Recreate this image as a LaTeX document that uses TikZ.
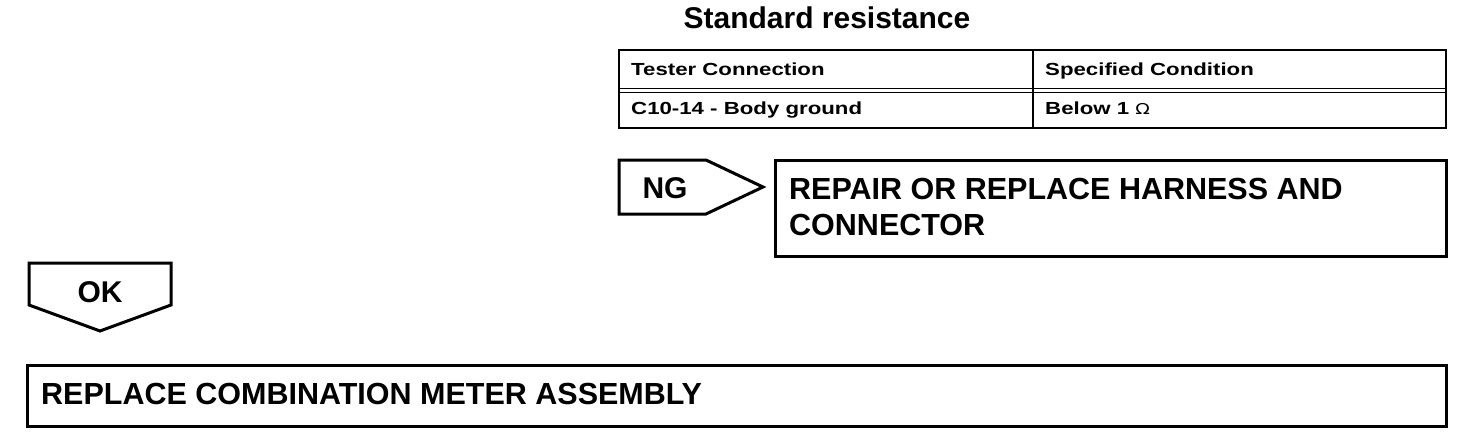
\documentclass[tikz,border=0pt]{standalone}
\usepackage{fontspec}
\setmainfont{Liberation Sans}
\newfontfamily\symfont{DejaVu Sans}
\begin{document}
\begin{tikzpicture}[x=1pt,y=-1pt,
  box/.style={draw,line width=3pt},
  thin/.style={draw,line width=2pt},
  big/.style={font=\fontsize{30.5}{36}\selectfont\bfseries,anchor=base west,inner sep=0},
  tab/.style={font=\fontsize{17.5}{20}\selectfont\bfseries,anchor=base west,inner sep=0},
  tag/.style={font=\fontsize{30}{34}\selectfont\bfseries,anchor=base,inner sep=0}]
\useasboundingbox (0,0) rectangle (1472,442);
\node[font=\fontsize{30}{34}\selectfont\bfseries,inner sep=0,anchor=base] (title) at (827,28) {Standard resistance};
% table
\draw[thin] (619,50) rectangle (1446,128);
\draw[thin] (1033,50) -- (1033,128);
\draw[line width=1.5pt] (619,88.5) -- (1446,88.5);
\draw[line width=1.5pt] (619,92.5) -- (1446,92.5);
\node[tab] (h1) at (631,75.5) {\scalebox{1.27}[1]{Tester Connection}};
\node[tab] (h2) at (1045,75.5) {\scalebox{1.27}[1]{Specified Condition}};
\node[tab] (c1) at (631,114) {\scalebox{1.27}[1]{C10-14 - Body ground}};
\node[tab] (c2) at (1045,114) {\scalebox{1.27}[1]{Below 1 {\symfont\mdseries\fontsize{15}{18}\selectfont Ω}}};
% NG
\draw[box,line join=miter] (619,160) -- (706,160) -- (763,187) -- (706,214) -- (619,214) -- cycle;
\node[tag] (ng) at (665,198) {NG};
\draw[box] (775,160) rectangle (1446,256);
\node[big] (rep1) at (789,199.5) {REPAIR OR REPLACE HARNESS AND};
\node[big] (rep2) at (789,235.5) {CONNECTOR};
% OK
\draw[box,line join=miter] (29,263) -- (171,263) -- (171,305) -- (100,331) -- (29,305) -- cycle;
\node[tag] (ok) at (100,302) {OK};
\draw[box] (27,365) rectangle (1446,426);
\node[big] (rc) at (41,404.5) {REPLACE COMBINATION METER ASSEMBLY};
\end{tikzpicture}
\end{document}
